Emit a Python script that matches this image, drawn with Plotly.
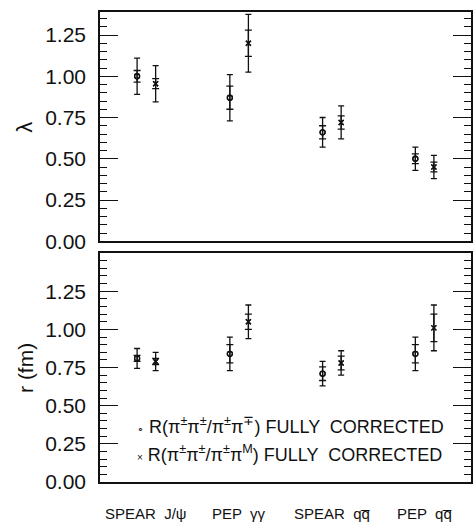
import numpy as np
import plotly.graph_objects as go
from plotly.subplots import make_subplots

categories = ["SPEAR  J/ψ", "PEP  γγ", "SPEAR  qq\u0305", "PEP  qq\u0305"]

lam_circle = [1.00, 0.87, 0.66, 0.50]
lam_circle_stat = [0.035, 0.07, 0.04, 0.03]
lam_circle_tot = [0.11, 0.14, 0.09, 0.07]
lam_cross = [0.955, 1.20, 0.72, 0.45]
lam_cross_stat = [0.03, 0.08, 0.04, 0.03]
lam_cross_tot = [0.11, 0.175, 0.10, 0.07]

r_circle = [0.81, 0.84, 0.71, 0.84]
r_circle_stat = [0.02, 0.06, 0.045, 0.06]
r_circle_tot = [0.065, 0.11, 0.08, 0.11]
r_cross = [0.79, 1.05, 0.78, 1.01]
r_cross_stat = [0.02, 0.05, 0.045, 0.09]
r_cross_tot = [0.06, 0.11, 0.08, 0.15]

legend_texts = [
    "R(π<sup>±</sup>π<sup>±</sup>/π<sup>±</sup>π<sup>∓</sup>) FULLY  CORRECTED",
    "R(π<sup>±</sup>π<sup>±</sup>/π<sup>±</sup>π<sup>M</sup>) FULLY  CORRECTED",
]
y_ticks = [0, 0.25, 0.5, 0.75, 1.0, 1.25]

W, H = 474, 529
ML, MR, MT, MB = 100, 1, 12, 47
plot_h = H - MT - MB
plot_w = W - ML - MR

idx = np.arange(1, len(categories) + 1)
off = 0.1
x_circ = idx - off
x_cross = idx + off

BLACK = "#111111"
FONT = "Liberation Sans, Arial, Helvetica, sans-serif"

fig = make_subplots(rows=2, cols=1, shared_xaxes=False, vertical_spacing=0.0)


def add_series(x, y, stat, tot, symbol, row):
    # total error (outer, with caps)
    fig.add_trace(go.Scatter(
        x=x, y=y, mode="markers",
        marker=dict(symbol=symbol, size=5, color=BLACK,
                    line=dict(color=BLACK, width=1.3)),
        error_y=dict(type="data", array=tot, visible=True, color=BLACK,
                     thickness=1.3, width=3),
        showlegend=False, hoverinfo="skip"), row=row, col=1)
    # statistical error (inner ticks)
    fig.add_trace(go.Scatter(
        x=x, y=y, mode="markers",
        marker=dict(symbol=symbol, size=5, color=BLACK,
                    line=dict(color=BLACK, width=1.3)),
        error_y=dict(type="data", array=stat, visible=True, color=BLACK,
                     thickness=1.3, width=3.5),
        showlegend=False, hoverinfo="skip"), row=row, col=1)


add_series(x_circ, lam_circle, lam_circle_stat, lam_circle_tot, "circle-open", 1)
add_series(x_cross, lam_cross, lam_cross_stat, lam_cross_tot, "x-thin-open", 1)
add_series(x_circ, r_circle, r_circle_stat, r_circle_tot, "circle-open", 2)
add_series(x_cross, r_cross, r_cross_stat, r_cross_tot, "x-thin-open", 2)

top_bottom_px = 241.25
bot_top_px = 253
top_dom = [(H - MB - top_bottom_px) / plot_h, 1.0]
bot_dom = [0.0, (H - MB - bot_top_px) / plot_h]

yaxis_common = dict(
    showline=True, linecolor=BLACK, linewidth=1.5, mirror="allticks",
    ticks="inside", ticklen=18, tickwidth=1.3, tickcolor=BLACK,
    tickvals=y_ticks, tickformat=".2f",
    tickfont=dict(family=FONT, size=21, color=BLACK),
    ticklabelstandoff=8,
    showgrid=False, zeroline=False,
    minor=dict(dtick=0.05, tick0=0, ticks="inside", ticklen=7,
               tickwidth=1.2, tickcolor=BLACK, showgrid=False),
)
xaxis_common = dict(
    range=[0.5, 4.5], showline=True, linecolor=BLACK, linewidth=1.5,
    mirror=True, ticks="", showticklabels=False, showgrid=False,
    zeroline=False,
)

fig.update_layout(
    width=W, height=H,
    margin=dict(l=ML, r=MR, t=MT, b=MB),
    paper_bgcolor="white", plot_bgcolor="white",
    font=dict(family=FONT, color=BLACK),
    xaxis=dict(**xaxis_common),
    xaxis2=dict(**xaxis_common),
    yaxis=dict(**yaxis_common, range=[0, (top_bottom_px - MT) / 165], domain=top_dom),
    yaxis2=dict(**yaxis_common, range=[0, (H - MB - bot_top_px) / 152.6], domain=bot_dom),
)

annotations = []
# axis titles
annotations.append(dict(text="λ", xref="paper", yref="y", x=(24 - ML) / plot_w,
                        y=0.69, showarrow=False, textangle=-90,
                        font=dict(family=FONT, size=22, color=BLACK),
                        xanchor="center", yanchor="middle"))
annotations.append(dict(text="r (fm)", xref="paper", yref="y2", x=(25 - ML) / plot_w,
                        y=0.75, showarrow=False, textangle=-90,
                        font=dict(family=FONT, size=21, color=BLACK),
                        xanchor="center", yanchor="middle"))
# category labels
for i, c in enumerate(categories):
    annotations.append(dict(text=c, xref="x2", yref="paper", x=idx[i],
                            y=-(513 - (H - MB)) / plot_h, showarrow=False,
                            font=dict(family=FONT, size=15, color=BLACK),
                            xanchor="center", yanchor="middle"))
# legend text
leg_syms = ["<span style='font-size:11px'>∘</span>", "<span style='font-size:10px'>×</span>"]
leg_y = [0.37, 0.19]
for s, t, yy in zip(leg_syms, legend_texts, leg_y):
    annotations.append(dict(text=s + " " + t, xref="paper", yref="y2",
                            x=(135 - ML) / plot_w, y=yy, showarrow=False,
                            font=dict(family=FONT, size=18, color=BLACK),
                            xanchor="left", yanchor="middle"))
fig.update_layout(annotations=annotations)

fig.write_html("out.html")
